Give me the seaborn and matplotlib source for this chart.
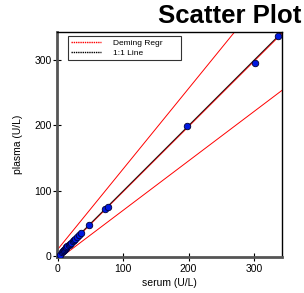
import numpy as np
import pandas as pd
import matplotlib
matplotlib.use("Agg")
import matplotlib.pyplot as plt
from matplotlib.ticker import MultipleLocator
import seaborn as sns

# measured pairs
serum = [3, 6, 8, 9, 10, 11, 12, 13, 15, 17, 19, 21, 23, 25, 27, 30, 33, 35,
         48, 73, 77, 197, 301, 336]
plasma = [2, 6, 8, 9, 10, 11, 12, 14, 15, 17, 19, 20, 23, 25, 26, 30, 32, 35,
          48, 72, 75, 199, 296, 337]

# line end points (x from 0 to 345)
line_x = [0, 345]
deming_y = [-0.8, 343.5]
upper_y = [10.5, 435.0]
lower_y = [-5.3, 255.5]
identity_y = [0, 345]

sns.set_style("ticks")
plt.rcParams['font.family'] = ['Liberation Sans', 'DejaVu Sans']
plt.rcParams['text.color'] = 'black'
plt.rcParams['axes.labelcolor'] = 'black'
plt.rcParams['xtick.color'] = 'black'
plt.rcParams['ytick.color'] = 'black'

fig = plt.figure(figsize=(3.04, 2.93), dpi=100)
ax = fig.add_axes([0.1875, 0.123, 0.741, 0.768])

df = pd.DataFrame({'serum': serum, 'plasma': plasma})

sns.lineplot(x=line_x, y=upper_y, color='red', lw=0.7, ax=ax)
sns.lineplot(x=line_x, y=lower_y, color='red', lw=0.7, ax=ax)
sns.lineplot(x=line_x, y=deming_y, color='red', lw=0.9, ax=ax)
sns.lineplot(x=line_x, y=identity_y, color='#222222', lw=0.7, ax=ax)
sns.scatterplot(data=df, x='serum', y='plasma', s=22, color='#0018e0',
                edgecolor='#000033', linewidth=0.6, ax=ax, zorder=5)

ax.set_xlim(-1, 343)
ax.set_ylim(-1, 343)
ax.xaxis.set_major_locator(MultipleLocator(100))
ax.yaxis.set_major_locator(MultipleLocator(100))
ax.xaxis.set_minor_locator(MultipleLocator(25))
ax.yaxis.set_minor_locator(MultipleLocator(25))
ax.tick_params(which='major', direction='inout', length=6, width=0.8,
               labelsize=7.5, color='black', labelcolor='black', pad=1)
ax.tick_params(which='minor', direction='inout', length=2, width=0.8,
               color='white', bottom=True, left=True)
ax.tick_params(axis='x', pad=2)

for side in ['left', 'bottom']:
    ax.spines[side].set_linewidth(2)
    ax.spines[side].set_color('#555555')
for side in ['right', 'top']:
    ax.spines[side].set_visible(True)
    ax.spines[side].set_linewidth(1)
    ax.spines[side].set_color('black')

ax.set_xlabel('serum (U/L)', fontsize=7.5, labelpad=3)
ax.set_ylabel('plasma (U/L)', fontsize=7.5, labelpad=8)

# legend: red dotted first, then black dotted
handles = [plt.Line2D([], [], color='red', lw=1, ls=(0, (1, 0.6))),
           plt.Line2D([], [], color='black', lw=1, ls=(0, (1, 0.6)))]
leg = ax.legend(handles, ['Deming Regr', '1:1 Line'], loc='upper left',
                bbox_to_anchor=(0.049, 0.982, 0.502, 0.0), mode='expand',
                fontsize=6, frameon=True,
                fancybox=False, edgecolor='black', handlelength=3.6,
                handletextpad=1.4, borderpad=0.35, labelspacing=0.25,
                borderaxespad=0)
leg.get_frame().set_linewidth(0.8)

fig.text(0.99, 0.985, 'Scatter Plot', ha='right', va='top',
         fontsize=18.5, fontweight='bold', color='black')

fig.savefig('out.png', dpi=100)
